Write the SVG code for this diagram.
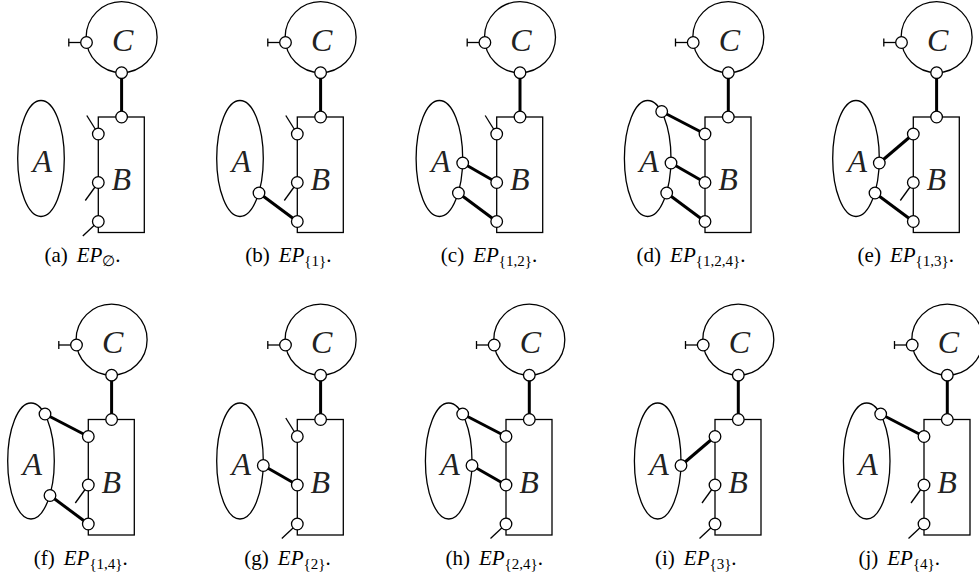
<svg xmlns="http://www.w3.org/2000/svg" xmlns:xlink="http://www.w3.org/1999/xlink" width="979" height="581" viewBox="0 0 979 581">
<style>
.thin{stroke:#000;stroke-width:1.3;fill:none}
.thick{stroke:#000;stroke-width:3;fill:none}
.port{fill:#fff;stroke:#000;stroke-width:1.3}
.lbl{font-family:'Liberation Serif','DejaVu Serif',serif;font-style:italic;font-size:32px;text-anchor:middle;fill:#222}
.cap{font-family:'Liberation Serif','DejaVu Serif',serif;font-size:21px;text-anchor:middle;fill:#000}
.m{font-style:italic}
.s{font-size:15px}
</style>
<defs>
<g id="tC">
<circle class="thin" cx="23.3" cy="37.2" r="35.5"/>
<line class="thin" x1="-11.8" y1="42.5" x2="-29.5" y2="42.5"/>
<line class="thin" x1="-29.5" y1="38.5" x2="-29.5" y2="46.5"/>
<circle class="port" cx="-11.8" cy="42.5" r="5.8"/>
<circle class="port" cx="23.3" cy="72.7" r="5.8"/>
<text class="lbl" x="24.3" y="50.5" font-family="Liberation Serif, DejaVu Serif, serif">C</text>
</g>
<g id="tBbody">
<rect class="thin" x="0" y="117" width="46" height="115.5"/>
<text class="lbl" x="23" y="190" font-family="Liberation Serif, DejaVu Serif, serif">B</text>
</g>
<g id="tA">
<ellipse class="thin" cx="-57.3" cy="158.5" rx="23.3" ry="58"/>
<text class="lbl" x="-56" y="172" font-family="Liberation Serif, DejaVu Serif, serif">A</text>
</g>
<line id="sT" class="thin" x1="0" y1="134" x2="-11.5" y2="115.5"/>
<line id="sM" class="thin" x1="0" y1="182.5" x2="-13" y2="200.5"/>
<line id="sB" class="thin" x1="0" y1="221.5" x2="-15.5" y2="236"/>
<g id="tBports">
<circle class="port" cx="23.3" cy="117" r="5.8"/>
<circle class="port" cx="0" cy="134" r="5.8"/>
<circle class="port" cx="0" cy="182.5" r="5.8"/>
<circle class="port" cx="0" cy="221.5" r="5.8"/>
</g>
<circle id="pU" class="port" cx="-43.3" cy="111.5" r="5.8"/>
<circle id="pM" class="port" cx="-34" cy="163" r="5.8"/>
<circle id="pL" class="port" cx="-38.3" cy="193" r="5.8"/>
<line id="eCB" class="thick" x1="23.3" y1="72.7" x2="23.3" y2="117"/>
<line id="e1" class="thick" x1="-38.3" y1="193" x2="0" y2="221.5"/>
<line id="e2" class="thick" x1="-34" y1="163" x2="0" y2="182.5"/>
<line id="e3" class="thick" x1="-34" y1="163" x2="0" y2="134"/>
<line id="e4" class="thick" x1="-43.3" y1="111.5" x2="0" y2="134"/>
</defs>

<g id="panel-a" transform="translate(98.3,0)">
<g id="a-connectors"><use xlink:href="#eCB"/></g>
<g id="a-C"><use xlink:href="#tC"/></g>
<g id="a-B"><use xlink:href="#tBbody"/><use xlink:href="#sT"/><use xlink:href="#sM"/><use xlink:href="#sB"/><use xlink:href="#tBports"/></g>
<g id="a-A"><use xlink:href="#tA"/></g>
<text class="cap" x="-15.8" y="262" font-family="Liberation Serif, DejaVu Serif, serif">(a)<tspan dx="9" class="m">EP</tspan><tspan class="s" dy="4">∅</tspan><tspan dy="-4">.</tspan></text>
</g>

<g id="panel-b" transform="translate(297.3,0)">
<g id="b-connectors"><use xlink:href="#eCB"/><use xlink:href="#e1"/></g>
<g id="b-C"><use xlink:href="#tC"/></g>
<g id="b-B"><use xlink:href="#tBbody"/><use xlink:href="#sT"/><use xlink:href="#sM"/><use xlink:href="#tBports"/></g>
<g id="b-A"><use xlink:href="#tA"/><use xlink:href="#pL"/></g>
<text class="cap" x="-9" y="262" font-family="Liberation Serif, DejaVu Serif, serif">(b)<tspan dx="9" class="m">EP</tspan><tspan class="s" dy="4">{1}</tspan><tspan dy="-4">.</tspan></text>
</g>

<g id="panel-c" transform="translate(496.7,0)">
<g id="c-connectors"><use xlink:href="#eCB"/><use xlink:href="#e1"/><use xlink:href="#e2"/></g>
<g id="c-C"><use xlink:href="#tC"/></g>
<g id="c-B"><use xlink:href="#tBbody"/><use xlink:href="#sT"/><use xlink:href="#tBports"/></g>
<g id="c-A"><use xlink:href="#tA"/><use xlink:href="#pM"/><use xlink:href="#pL"/></g>
<text class="cap" x="-7.7" y="262" font-family="Liberation Serif, DejaVu Serif, serif">(c)<tspan dx="9" class="m">EP</tspan><tspan class="s" dy="4">{1,2}</tspan><tspan dy="-4">.</tspan></text>
</g>

<g id="panel-d" transform="translate(705,0)">
<g id="d-connectors"><use xlink:href="#eCB"/><use xlink:href="#e1"/><use xlink:href="#e2"/><use xlink:href="#e4"/></g>
<g id="d-C"><use xlink:href="#tC"/></g>
<g id="d-B"><use xlink:href="#tBbody"/><use xlink:href="#tBports"/></g>
<g id="d-A"><use xlink:href="#tA"/><use xlink:href="#pU"/><use xlink:href="#pM"/><use xlink:href="#pL"/></g>
<text class="cap" x="-14" y="262" font-family="Liberation Serif, DejaVu Serif, serif">(d)<tspan dx="9" class="m">EP</tspan><tspan class="s" dy="4">{1,2,4}</tspan><tspan dy="-4">.</tspan></text>
</g>

<g id="panel-e" transform="translate(913.3,0)">
<g id="e-connectors"><use xlink:href="#eCB"/><use xlink:href="#e1"/><use xlink:href="#e3"/></g>
<g id="e-C"><use xlink:href="#tC"/></g>
<g id="e-B"><use xlink:href="#tBbody"/><use xlink:href="#sM"/><use xlink:href="#tBports"/></g>
<g id="e-A"><use xlink:href="#tA"/><use xlink:href="#pM"/><use xlink:href="#pL"/></g>
<text class="cap" x="-7.5" y="262" font-family="Liberation Serif, DejaVu Serif, serif">(e)<tspan dx="9" class="m">EP</tspan><tspan class="s" dy="4">{1,3}</tspan><tspan dy="-4">.</tspan></text>
</g>

<g id="panel-f" transform="translate(88.3,302.5)">
<g id="f-connectors"><use xlink:href="#eCB"/><use xlink:href="#e1"/><use xlink:href="#e4"/></g>
<g id="f-C"><use xlink:href="#tC"/></g>
<g id="f-B"><use xlink:href="#tBbody"/><use xlink:href="#sM"/><use xlink:href="#tBports"/></g>
<g id="f-A"><use xlink:href="#tA"/><use xlink:href="#pU"/><use xlink:href="#pL"/></g>
<text class="cap" x="-7.5" y="262" font-family="Liberation Serif, DejaVu Serif, serif">(f)<tspan dx="9" class="m">EP</tspan><tspan class="s" dy="4">{1,4}</tspan><tspan dy="-4">.</tspan></text>
</g>

<g id="panel-g" transform="translate(297.3,302.5)">
<g id="g-connectors"><use xlink:href="#eCB"/><use xlink:href="#e2"/></g>
<g id="g-C"><use xlink:href="#tC"/></g>
<g id="g-B"><use xlink:href="#tBbody"/><use xlink:href="#sT"/><use xlink:href="#sB"/><use xlink:href="#tBports"/></g>
<g id="g-A"><use xlink:href="#tA"/><use xlink:href="#pM"/></g>
<text class="cap" x="-9.8" y="262" font-family="Liberation Serif, DejaVu Serif, serif">(g)<tspan dx="9" class="m">EP</tspan><tspan class="s" dy="4">{2}</tspan><tspan dy="-4">.</tspan></text>
</g>

<g id="panel-h" transform="translate(506,302.5)">
<g id="h-connectors"><use xlink:href="#eCB"/><use xlink:href="#e2"/><use xlink:href="#e4"/></g>
<g id="h-C"><use xlink:href="#tC"/></g>
<g id="h-B"><use xlink:href="#tBbody"/><use xlink:href="#sB"/><use xlink:href="#tBports"/></g>
<g id="h-A"><use xlink:href="#tA"/><use xlink:href="#pU"/><use xlink:href="#pM"/></g>
<text class="cap" x="-11.8" y="262" font-family="Liberation Serif, DejaVu Serif, serif">(h)<tspan dx="9" class="m">EP</tspan><tspan class="s" dy="4">{2,4}</tspan><tspan dy="-4">.</tspan></text>
</g>

<g id="panel-i" transform="translate(715,302.5)">
<g id="i-connectors"><use xlink:href="#eCB"/><use xlink:href="#e3"/></g>
<g id="i-C"><use xlink:href="#tC"/></g>
<g id="i-B"><use xlink:href="#tBbody"/><use xlink:href="#sM"/><use xlink:href="#sB"/><use xlink:href="#tBports"/></g>
<g id="i-A"><use xlink:href="#tA"/><use xlink:href="#pM"/></g>
<text class="cap" x="-19.2" y="262" font-family="Liberation Serif, DejaVu Serif, serif">(i)<tspan dx="9" class="m">EP</tspan><tspan class="s" dy="4">{3}</tspan><tspan dy="-4">.</tspan></text>
</g>

<g id="panel-j" transform="translate(924,302.5)">
<g id="j-connectors"><use xlink:href="#eCB"/><use xlink:href="#e4"/></g>
<g id="j-C"><use xlink:href="#tC"/></g>
<g id="j-B"><use xlink:href="#tBbody"/><use xlink:href="#sM"/><use xlink:href="#sB"/><use xlink:href="#tBports"/></g>
<g id="j-A"><use xlink:href="#tA"/><use xlink:href="#pU"/></g>
<text class="cap" x="-24.8" y="262" font-family="Liberation Serif, DejaVu Serif, serif">(j)<tspan dx="9" class="m">EP</tspan><tspan class="s" dy="4">{4}</tspan><tspan dy="-4">.</tspan></text>
</g>
</svg>
